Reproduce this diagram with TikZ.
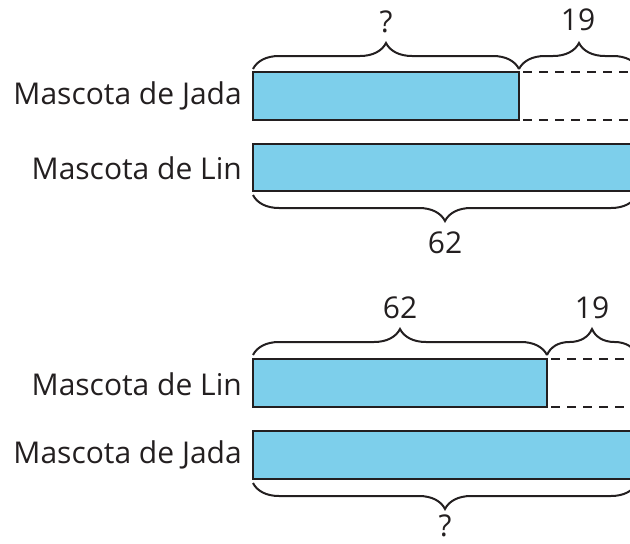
\documentclass[tikz,border=0pt]{standalone}
\usepackage{fontspec}
\setmainfont{Open Sans}
\usetikzlibrary{positioning,decorations.pathreplacing}
\definecolor{tapeblue}{RGB}{125,207,235}
\definecolor{inkgray}{RGB}{35,31,32}

\begin{document}
\begin{tikzpicture}[x=1pt,y=-1pt,
  tape/.style = {fill=tapeblue, draw=inkgray, line width=2.6pt},
  ext/.style = {draw=inkgray, line width=2.2pt, dash pattern=on 9pt off 7pt, dash phase=12pt},
  brc/.style = {draw=inkgray, line width=2pt, decorate, decoration={brace,amplitude=26pt}},
  lbl/.style = {text=inkgray, inner sep=0pt, font=\fontsize{30}{36}\selectfont}]
\useasboundingbox (0,0) rectangle (630,544);
\clip (0,0) rectangle (630,544);

% top diagram
\fill[tape] (253,72) rectangle (519,120);
\draw[ext] (519,72) -- (645,72);
\draw[ext] (519,120) -- (645,120);
\fill[tape] (253,144) rectangle (645,191);
\draw[brc] (253,69) -- (519,69);
\draw[brc] (519,69) -- (639,69);
\draw[brc] (637,195) -- (253,195);
\node[lbl] (qa) at (386,22) {?};
\node[lbl] (na) at (578,20) {19};
\node[lbl] (sa) at (445,243) {62};
\node[lbl, anchor=east] (jadaA) at (242,96) {Mascota de Jada};
\node[lbl, anchor=east] (linA) at (242,168) {Mascota de Lin};

% bottom diagram
\fill[tape] (253,359) rectangle (547,407);
\draw[ext] (547,359) -- (645,359);
\draw[ext] (547,407) -- (645,407);
\fill[tape] (253,431) rectangle (645,479);
\draw[brc] (253,355) -- (547,355);
\draw[brc] (547,355) -- (637,355);
\draw[brc] (637,483) -- (253,483);
\node[lbl] (sb) at (400,308) {62};
\node[lbl] (nb) at (592,308) {19};
\node[lbl] (qb) at (445,526) {?};
\node[lbl, anchor=east] (linB) at (242,384) {Mascota de Lin};
\node[lbl, anchor=east] (jadaB) at (242,455) {Mascota de Jada};
\end{tikzpicture}
\end{document}
